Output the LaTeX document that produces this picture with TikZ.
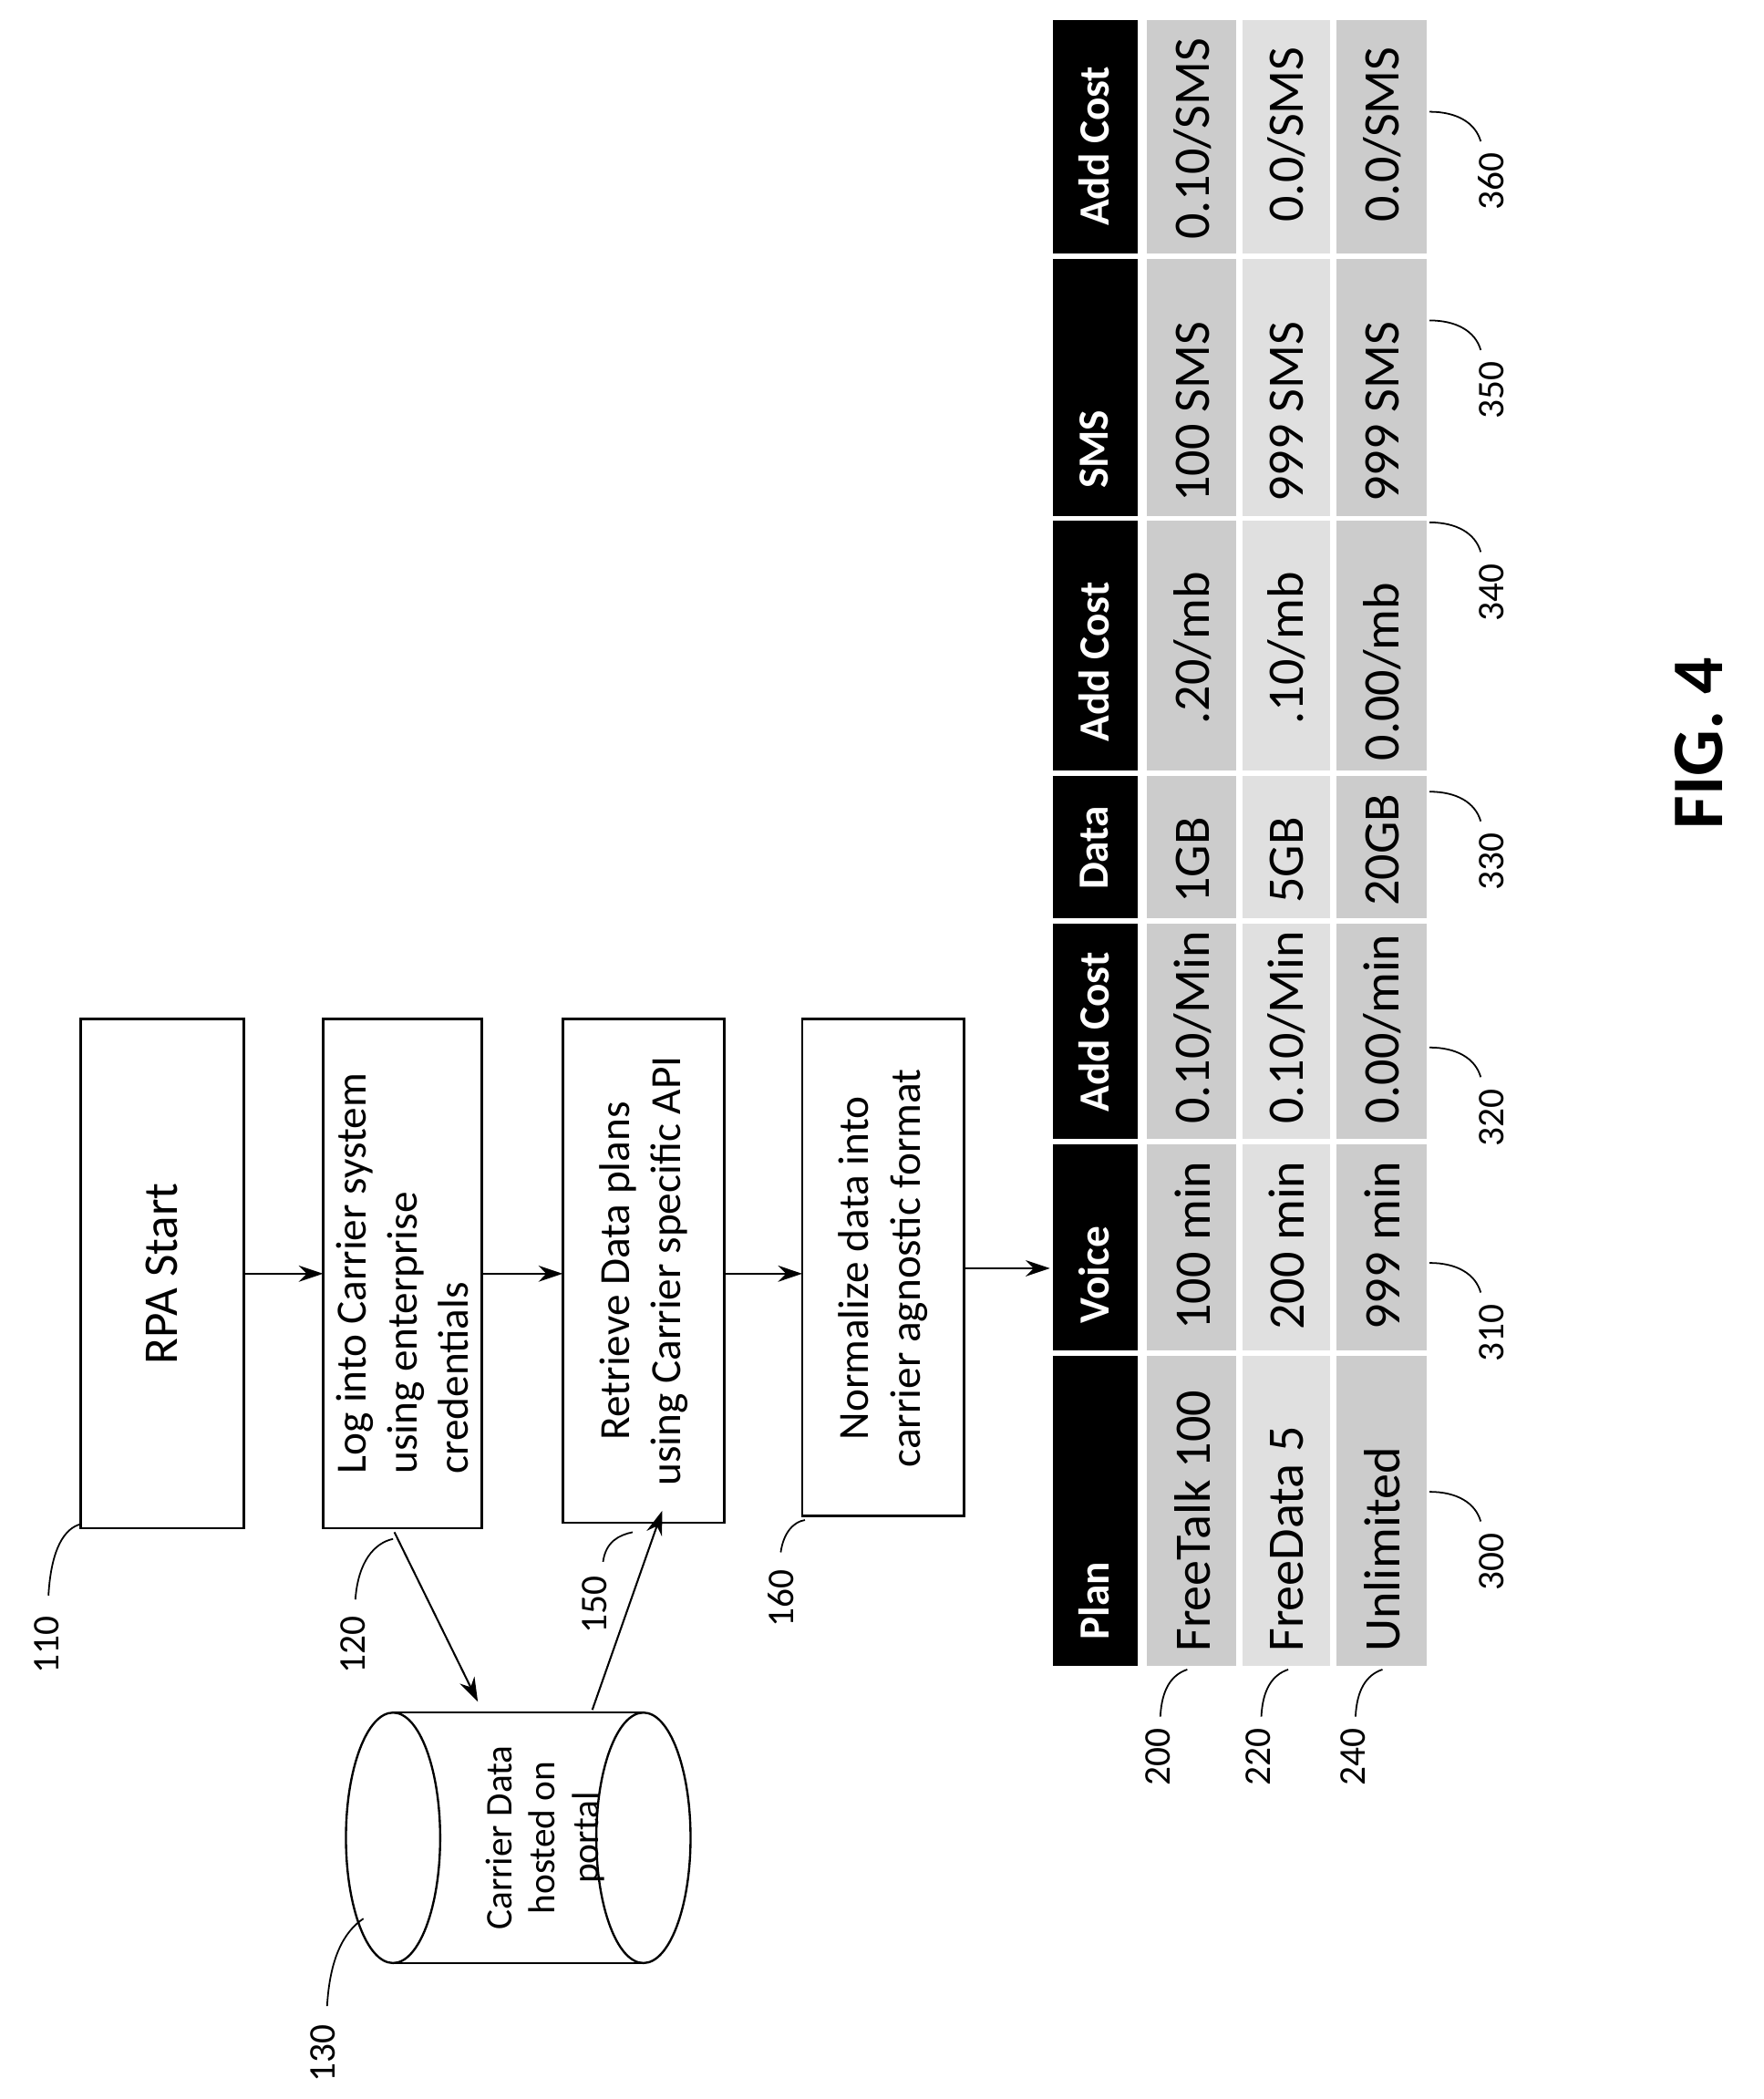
\documentclass[tikz,border=0pt]{standalone}
\usepackage{fontspec}
\setmainfont{Carlito}
\usetikzlibrary{arrows.meta}
\begin{document}
\begin{tikzpicture}[x=0.5pt,y=-0.5pt,
  box/.style={draw,line width=0.9pt},
  btxt/.style={rotate=90,font=\fontsize{16}{19}\selectfont,align=center},
  arr/.style={-{Stealth[length=9pt,width=6pt]},line width=0.7pt},
  lbl/.style={rotate=90,font=\fontsize{14}{16}\selectfont},
  lead/.style={line width=0.6pt},
  hd/.style={rotate=90,anchor=west,text=white,font=\fontsize{16}{19}\selectfont\bfseries},
  dt/.style={rotate=90,anchor=west,font=\fontsize{19}{22}\selectfont}]
\useasboundingbox (0,0) rectangle (1310,1559);
% flow boxes
\draw[box] (60,757) rectangle (181,1135);
\node[btxt,font=\fontsize{18}{21}\selectfont] (b110) at (120,946) {RPA Start};
\draw[box] (240,757) rectangle (358,1135);
\node[btxt,align=left] (b120) at (299,946) {Log into Carrier system\\using enterprise\\credentials};
\draw[box] (418,757) rectangle (538,1131);
\node[btxt] (b150) at (478,944) {Retrieve Data plans\\using Carrier specific API};
\draw[box] (596,757) rectangle (716,1126);
\node[btxt] (b160) at (656,942) {Normalize data into\\carrier agnostic format};
\coordinate (a1) at (181,946); \coordinate (a2) at (240,946);
\coordinate (a3) at (358,946); \coordinate (a4) at (418,946);
\coordinate (a5) at (538,946); \coordinate (a6) at (596,946);
\coordinate (a7) at (716,942); \coordinate (a8) at (780,942);
\draw[arr] (a1)--(a2); \draw[arr] (a3)--(a4); \draw[arr] (a5)--(a6); \draw[arr] (a7)--(a8);
% cylinder
\draw[line width=0.8pt] (292,1272) -- (478,1272) (292,1458) -- (478,1458);
\draw[line width=0.8pt,fill=white] (292,1365) ellipse [x radius=35,y radius=93];
\draw[line width=0.8pt] (478,1365) ellipse [x radius=35,y radius=93];
\node[rotate=90,align=center,font=\fontsize{14}{16}\selectfont] (c130) at (405,1365) {Carrier Data\\hosted on\\portal};
\coordinate (s1) at (293,1138); \coordinate (e1) at (355,1264);
\draw[arr] (s1)--(e1);
\coordinate (s2) at (440,1270); \coordinate (e2) at (492,1122);
\draw[arr] (s2)--(e2);
% flow labels
\node[lbl] (n110) at (35,1222) {110};
\draw[lead] (36,1185) .. controls (38,1150) and (48,1135) .. (60,1132);
\node[lbl] (n120) at (262,1222) {120};
\draw[lead] (264,1188) .. controls (266,1160) and (278,1146) .. (292,1143);
\node[lbl] (n150) at (442,1192) {150};
\draw[lead] (448,1160) .. controls (450,1145) and (460,1140) .. (470,1138);
\node[lbl] (n160) at (580,1187) {160};
\draw[lead] (580,1153) .. controls (582,1138) and (590,1130) .. (598,1129);
\node[lbl] (n130) at (240,1525) {130};
\draw[lead] (243,1490) .. controls (245,1455) and (255,1435) .. (270,1425);
% table
\definecolor{g1}{gray}{0.80}\definecolor{g2}{gray}{0.88}
\foreach \ya/\yb in {15/188,192/383,387/572,576/682,686/846,850/1003,1007/1237}{
  \fill (782,\ya) rectangle (845,\yb);
  \fill[g1] (852,\ya) rectangle (918,\yb);
  \fill[g2] (923,\ya) rectangle (988,\yb);
  \fill[g1] (993,\ya) rectangle (1060,\yb);
}
\def\hx{813}\def\ra{886}\def\rb{956}\def\rc{1027}
\node[hd] (h1) at (\hx,1225) {Plan};
\node[hd] (h2) at (\hx,990) {Voice};
\node[hd] (h3) at (\hx,833) {Add Cost};
\node[hd] (h4) at (\hx,668) {Data};
\node[hd] (h5) at (\hx,558) {Add Cost};
\node[hd] (h6) at (\hx,370) {SMS};
\node[hd] (h7) at (\hx,175) {Add Cost};
\node[dt] (t11) at (\ra,1234) {FreeTalk 100};
\node[dt] (t12) at (\ra,995) {100 min};
\node[dt] (t13) at (\ra,842) {0.10/Min};
\node[dt] (t14) at (\ra,678) {1GB};
\node[dt] (t15) at (\ra,545) {.20/mb};
\node[dt] (t16) at (\ra,380) {100 SMS};
\node[dt] (t17) at (\ra,185) {0.10/SMS};
\node[dt] (t21) at (\rb,1234) {FreeData 5};
\node[dt] (t22) at (\rb,995) {200 min};
\node[dt] (t23) at (\rb,842) {0.10/Min};
\node[dt] (t24) at (\rb,678) {5GB};
\node[dt] (t25) at (\rb,545) {.10/mb};
\node[dt] (t26) at (\rb,380) {999 SMS};
\node[dt] (t27) at (\rb,172) {0.0/SMS};
\node[dt] (t31) at (\rc,1234) {Unlimited};
\node[dt] (t32) at (\rc,995) {999 min};
\node[dt] (t33) at (\rc,842) {0.00/min};
\node[dt] (t34) at (\rc,680) {20GB};
\node[dt] (t35) at (\rc,572) {0.00/mb};
\node[dt] (t36) at (\rc,380) {999 SMS};
\node[dt] (t37) at (\rc,172) {0.0/SMS};
% row labels
\foreach \x/\n in {860/200,935/220,1005/240}{
  \node[lbl] (r\n) at (\x,1305) {\n};
  \draw[lead] (\x+2,1275) .. controls (\x+3,1255) and (\x+10,1244) .. (\x+22,1240);
}
% column labels
\foreach \y/\n in {1160/300,990/310,830/320,640/330,440/340,290/350,135/360}{
  \node[lbl] (k\n) at (1108,\y) {\n};
  \draw[lead] (1062,\y-52) .. controls (1082,\y-52) and (1096,\y-44) .. (1100,\y-30);
}
\node[rotate=90,font=\fontsize{27}{30}\selectfont\bfseries] (fig) at (1262,552) {FIG. 4};
\end{tikzpicture}
\end{document}
